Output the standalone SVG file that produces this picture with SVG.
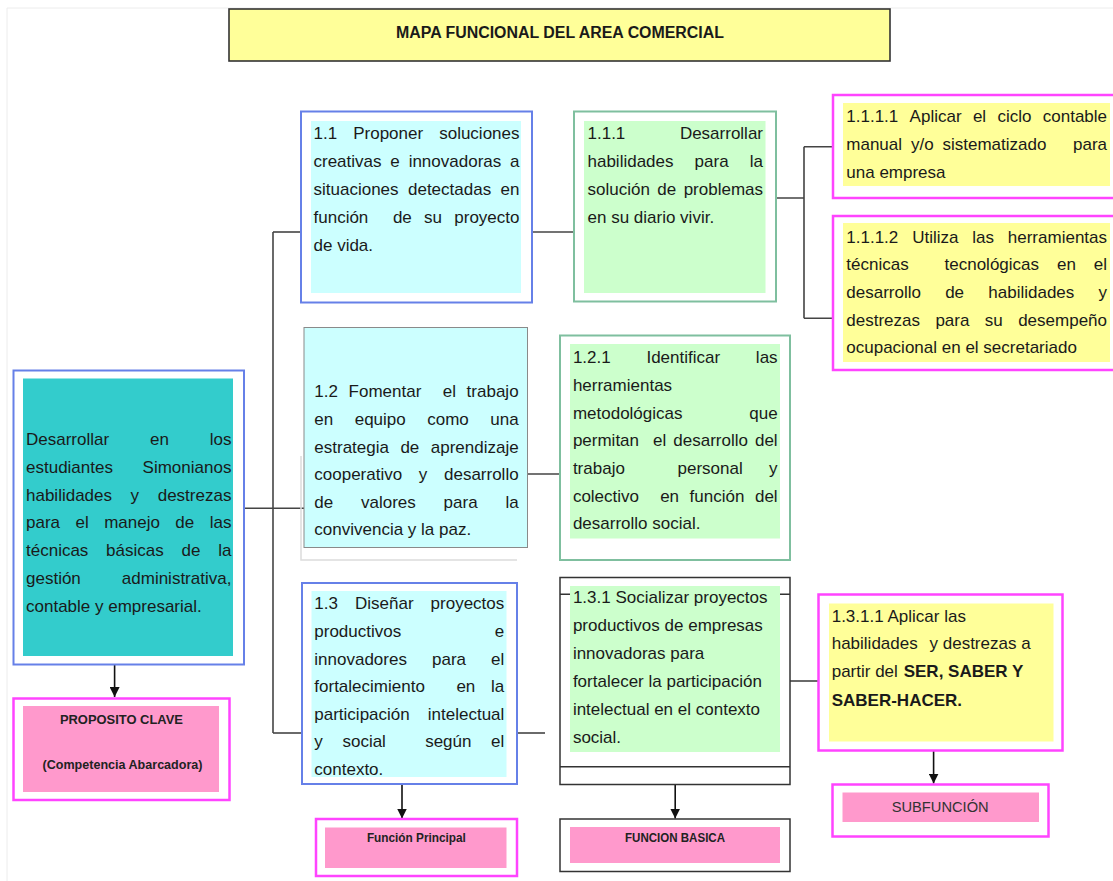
<svg xmlns="http://www.w3.org/2000/svg" width="1113" height="881" viewBox="0 0 1113 881">
<style>
.t{font-family:"Liberation Sans",Arial,sans-serif;font-size:17px;fill:#1a1a1a}
.b{font-family:"Liberation Sans",Arial,sans-serif;font-weight:bold;fill:#1a1a1a}
.lab{font-family:"Liberation Sans",Arial,sans-serif;font-weight:bold;fill:#222;text-anchor:middle}
.blue{fill:#fff;stroke:#6680e8;stroke-width:2}
.green{fill:#fff;stroke:#7fbf9f;stroke-width:2}
.mag{fill:#fff;stroke:#ff44ff;stroke-width:2.5}
.dark{fill:#fff;stroke:#333;stroke-width:1.5}
.cyan{fill:#ccffff}
.lgreen{fill:#ccffcc}
.yel{fill:#ffff99}
.pink{fill:#ff99cc}
.teal{fill:#33cccc}
.con{stroke:#444;stroke-width:1.6;fill:none}
.arr{stroke:#111;stroke-width:1.6;fill:none;marker-end:url(#ah)}
</style>
<defs>
<marker id="ah" markerWidth="10" markerHeight="10" refX="10" refY="5" orient="auto" markerUnits="userSpaceOnUse"><path d="M0,0 L10,5 L0,10 z" fill="#111"/></marker>
</defs>
<rect width="1113" height="881" fill="#fff"/>
<path d="M7,881 V8 H1113" stroke="#ececec" stroke-width="1" fill="none"/>

<g id="connectors">
<path class="con" d="M273,232 V733"/>
<path class="con" d="M273,232 H301"/>
<path class="con" d="M244,508.3 H304"/>
<path class="con" d="M273,733 H302"/>
<path class="con" d="M532,232 H574"/>
<path class="con" d="M776,198 H804 M804,146.7 V318.3 M804,146.7 H833 M804,318.3 H833"/>
<path class="con" d="M527.5,474 H560"/>
<path class="con" d="M517,733 H545"/>
<path class="con" d="M790,681 H818.5"/>
<path class="arr" d="M114.6,664.5 V697"/>
<path class="arr" d="M402,784.5 V818.5"/>
<path class="arr" d="M675.2,784.5 V818.5"/>
<path class="arr" d="M933.6,751 V783.5"/>
</g>

<g id="title">
<rect x="229" y="9" width="661" height="52" fill="#ffff99" stroke="#333" stroke-width="1.6"/>
<text class="b" x="560" y="37.5" font-size="16" text-anchor="middle" textLength="328" lengthAdjust="spacingAndGlyphs">MAPA FUNCIONAL DEL AREA COMERCIAL</text>
</g>

<g id="n1_1">
<rect class="blue" x="301" y="111.5" width="231" height="191"/>
<rect class="cyan" x="311" y="121" width="210" height="172"/>
<text class="t" y="138.5"><tspan x="313.5">1.1</tspan><tspan x="353.2">Proponer</tspan><tspan x="439.19">soluciones</tspan></text>
<text class="t" y="166.5"><tspan x="313.5">creativas</tspan><tspan x="390.35">e</tspan><tspan x="408.63">innovadoras</tspan><tspan x="510.06">a</tspan></text>
<text class="t" y="194.5"><tspan x="313.5">situaciones</tspan><tspan x="407.98">detectadas</tspan><tspan x="500.59">en</tspan></text>
<text class="t" y="222.5"><tspan x="313.5">función</tspan><tspan x="392.88">de</tspan><tspan x="424.07">su</tspan><tspan x="454.31">proyecto</tspan></text>
<text class="t" x="313.5" y="250.5">de vida.</text>
</g>

<g id="n1_1_1">
<rect class="green" x="574" y="111.5" width="202" height="190"/>
<rect class="lgreen" x="584" y="121" width="181.5" height="172"/>
<text class="t" y="139"><tspan x="587.5">1.1.1</tspan><tspan x="679.89">Desarrollar</tspan></text>
<text class="t" y="167"><tspan x="587.5">habilidades</tspan><tspan x="694.62">para</tspan><tspan x="749.77">la</tspan></text>
<text class="t" y="195"><tspan x="587.5">solución</tspan><tspan x="657.3">de</tspan><tspan x="683.64">problemas</tspan></text>
<text class="t" x="587.5" y="223">en su diario vivir.</text>
</g>

<g id="n1_1_1_1">
<rect class="mag" x="833" y="95" width="290" height="103"/>
<rect class="yel" x="843" y="103" width="267" height="83"/>
<text class="t" y="122"><tspan x="846.3">1.1.1.1</tspan><tspan x="909.61">Aplicar</tspan><tspan x="972.88">el</tspan><tspan x="997.43">ciclo</tspan><tspan x="1042.75">contable</tspan></text>
<text class="t" y="150"><tspan x="846.3">manual</tspan><tspan x="910.91">y/o</tspan><tspan x="942.46">sistematizado</tspan><tspan x="1072.98">para</tspan></text>
<text class="t" x="846.3" y="178">una empresa</text>
</g>

<g id="n1_1_1_2">
<rect class="mag" x="833" y="216" width="290" height="154"/>
<rect class="yel" x="843" y="223" width="267" height="139"/>
<text class="t" y="242.5"><tspan x="846.3">1.1.1.2</tspan><tspan x="912.13">Utiliza</tspan><tspan x="972.24">las</tspan><tspan x="1007.81">herramientas</tspan></text>
<text class="t" y="270.2"><tspan x="846.3">técnicas</tspan><tspan x="944.52">tecnológicas</tspan><tspan x="1056.94">en</tspan><tspan x="1093.77">el</tspan></text>
<text class="t" y="297.9"><tspan x="846.3">desarrollo</tspan><tspan x="945.16">de</tspan><tspan x="988.29">habilidades</tspan><tspan x="1098.51">y</tspan></text>
<text class="t" y="325.6"><tspan x="846.3">destrezas</tspan><tspan x="935.4">para</tspan><tspan x="984.82">su</tspan><tspan x="1018.17">desempeño</tspan></text>
<text class="t" x="846.3" y="353.3">ocupacional en el secretariado</text>
</g>

<g id="n1">
<rect class="blue" x="13.5" y="370.5" width="230.5" height="294"/>
<rect class="teal" x="23" y="378.5" width="210" height="277.5"/>
<text class="t" y="445"><tspan x="26">Desarrollar</tspan><tspan x="149.94">en</tspan><tspan x="209.67">los</tspan></text>
<text class="t" y="472.8"><tspan x="26">estudiantes</tspan><tspan x="142.59">Simonianos</tspan></text>
<text class="t" y="500.6"><tspan x="26">habilidades</tspan><tspan x="130.59">y</tspan><tspan x="157.69">destrezas</tspan></text>
<text class="t" y="528.4"><tspan x="26">para</tspan><tspan x="75.47">el</tspan><tspan x="104.15">manejo</tspan><tspan x="175.34">de</tspan><tspan x="209.69">las</tspan></text>
<text class="t" y="556.2"><tspan x="26">técnicas</tspan><tspan x="106.12">básicas</tspan><tspan x="181.51">de</tspan><tspan x="218.17">la</tspan></text>
<text class="t" y="584"><tspan x="26">gestión</tspan><tspan x="121.82">administrativa,</tspan></text>
<text class="t" x="26" y="611.8">contable y empresarial.</text>
</g>

<g id="n1_2">
<path d="M301,456 V560 H517" stroke="#dcdcdc" stroke-width="1.5" fill="none"/>
<rect x="304" y="327.5" width="223.5" height="220" fill="#ccffff" stroke="#8a8a8a" stroke-width="1"/>
<text class="t" y="397.3"><tspan x="314.3">1.2</tspan><tspan x="348.61">Fomentar</tspan><tspan x="442.71">el</tspan><tspan x="466.62">trabajo</tspan></text>
<text class="t" y="424.9"><tspan x="314.3">en</tspan><tspan x="354.68">equipo</tspan><tspan x="427.19">como</tspan><tspan x="490.24">una</tspan></text>
<text class="t" y="452.5"><tspan x="314.3">estrategia</tspan><tspan x="400.39">de</tspan><tspan x="430.73">aprendizaje</tspan></text>
<text class="t" y="480.1"><tspan x="314.3">cooperativo</tspan><tspan x="418.82">y</tspan><tspan x="443.97">desarrollo</tspan></text>
<text class="t" y="507.7"><tspan x="314.3">de</tspan><tspan x="360.99">valores</tspan><tspan x="443.57">para</tspan><tspan x="505.38">la</tspan></text>
<text class="t" x="314.3" y="535.3">convivencia y la paz.</text>
</g>

<g id="n1_2_1">
<rect class="green" x="560" y="335.5" width="230" height="224.5"/>
<rect class="lgreen" x="570" y="344" width="210" height="194.5"/>
<text class="t" y="363.3"><tspan x="572.9">1.2.1</tspan><tspan x="646.44">Identificar</tspan><tspan x="755.87">las</tspan></text>
<text class="t" x="572.9" y="391">herramientas</text>
<text class="t" y="418.7"><tspan x="572.9">metodológicas</tspan><tspan x="749.24">que</tspan></text>
<text class="t" y="446.3"><tspan x="572.9">permitan</tspan><tspan x="653.05">el</tspan><tspan x="673.29">desarrollo</tspan><tspan x="754.93">del</tspan></text>
<text class="t" y="474"><tspan x="572.9">trabajo</tspan><tspan x="677.55">personal</tspan><tspan x="769.09">y</tspan></text>
<text class="t" y="501.7"><tspan x="572.9">colectivo</tspan><tspan x="660.13">en</tspan><tspan x="689.58">función</tspan><tspan x="754.94">del</tspan></text>
<text class="t" x="572.9" y="529.3">desarrollo social.</text>
</g>

<g id="n1_3">
<rect class="blue" x="302" y="583" width="215" height="201"/>
<rect class="cyan" x="311.5" y="591" width="195" height="186"/>
<text class="t" y="609.3"><tspan x="314.3">1.3</tspan><tspan x="354.98">Diseñar</tspan><tspan x="430.6">proyectos</tspan></text>
<text class="t" y="636.9"><tspan x="314.3">productivos</tspan><tspan x="494.85">e</tspan></text>
<text class="t" y="664.5"><tspan x="314.3">innovadores</tspan><tspan x="431.98">para</tspan><tspan x="491.08">el</tspan></text>
<text class="t" y="692.1"><tspan x="314.3">fortalecimiento</tspan><tspan x="456.39">en</tspan><tspan x="491.07">la</tspan></text>
<text class="t" y="719.7"><tspan x="314.3">participación</tspan><tspan x="427.77">intelectual</tspan></text>
<text class="t" y="747.3"><tspan x="314.3">y</tspan><tspan x="342.43">social</tspan><tspan x="425.14">según</tspan><tspan x="491.08">el</tspan></text>
<text class="t" x="314.3" y="774.9">contexto.</text>
</g>

<g id="n1_3_1">
<rect class="dark" x="560" y="577.5" width="230" height="207"/>
<path d="M560,594.3 H790 M560,766.7 H790" stroke="#333" stroke-width="1.5"/>
<rect class="lgreen" x="570" y="586" width="210" height="166"/>
<text class="t" x="572.9" y="603.3">1.3.1 Socializar proyectos</text>
<text class="t" x="572.9" y="631.2">productivos de empresas</text>
<text class="t" x="572.9" y="659.1">innovadoras para</text>
<text class="t" x="572.9" y="687">fortalecer la participación</text>
<text class="t" x="572.9" y="714.9">intelectual en el contexto</text>
<text class="t" x="572.9" y="742.8">social.</text>
</g>

<g id="n1_3_1_1">
<rect class="mag" x="818.5" y="594.5" width="244" height="156"/>
<rect class="yel" x="829" y="603.5" width="224.5" height="138"/>
<text class="t" x="831.7" y="621.7">1.3.1.1 Aplicar las</text>
<text class="t" y="649.3"><tspan x="831.7">habilidades</tspan><tspan x="929.5">y destrezas a</tspan></text>
<text class="t" y="676.7"><tspan x="831.7">partir del</tspan><tspan x="903.7" font-weight="bold">SER, SABER Y</tspan></text>
<text class="b" x="831.7" y="706" font-size="17">SABER-HACER.</text>
</g>

<g id="proposito">
<rect class="mag" x="13.5" y="698.5" width="216" height="101.5"/>
<rect class="pink" x="23" y="706" width="196" height="86"/>
<text class="lab" x="121.4" y="724" font-size="13.5" textLength="123" lengthAdjust="spacingAndGlyphs">PROPOSITO CLAVE</text>
<text class="lab" x="122.5" y="769" font-size="12" textLength="160" lengthAdjust="spacingAndGlyphs">(Competencia Abarcadora)</text>
</g>

<g id="funcion_principal">
<rect class="mag" x="316" y="819" width="201" height="57"/>
<rect class="pink" x="325" y="827.5" width="181.5" height="40.5"/>
<text class="lab" x="416.4" y="842" font-size="12" textLength="99" lengthAdjust="spacingAndGlyphs">Función Principal</text>
</g>

<g id="funcion_basica">
<rect class="dark" x="560" y="819" width="230" height="52.5"/>
<rect class="pink" x="570" y="827" width="210" height="36"/>
<text class="lab" x="675" y="842" font-size="12" textLength="100" lengthAdjust="spacingAndGlyphs">FUNCION BASICA</text>
</g>

<g id="subfuncion">
<rect class="mag" x="832.5" y="784.5" width="216" height="52"/>
<rect class="pink" x="842.5" y="792.5" width="196.5" height="29.5"/>
<text x="940.2" y="811.7" font-family="Liberation Sans, Arial, sans-serif" font-size="15" fill="#333" text-anchor="middle" textLength="97" lengthAdjust="spacingAndGlyphs">SUBFUNCIÓN</text>
</g>
</svg>
